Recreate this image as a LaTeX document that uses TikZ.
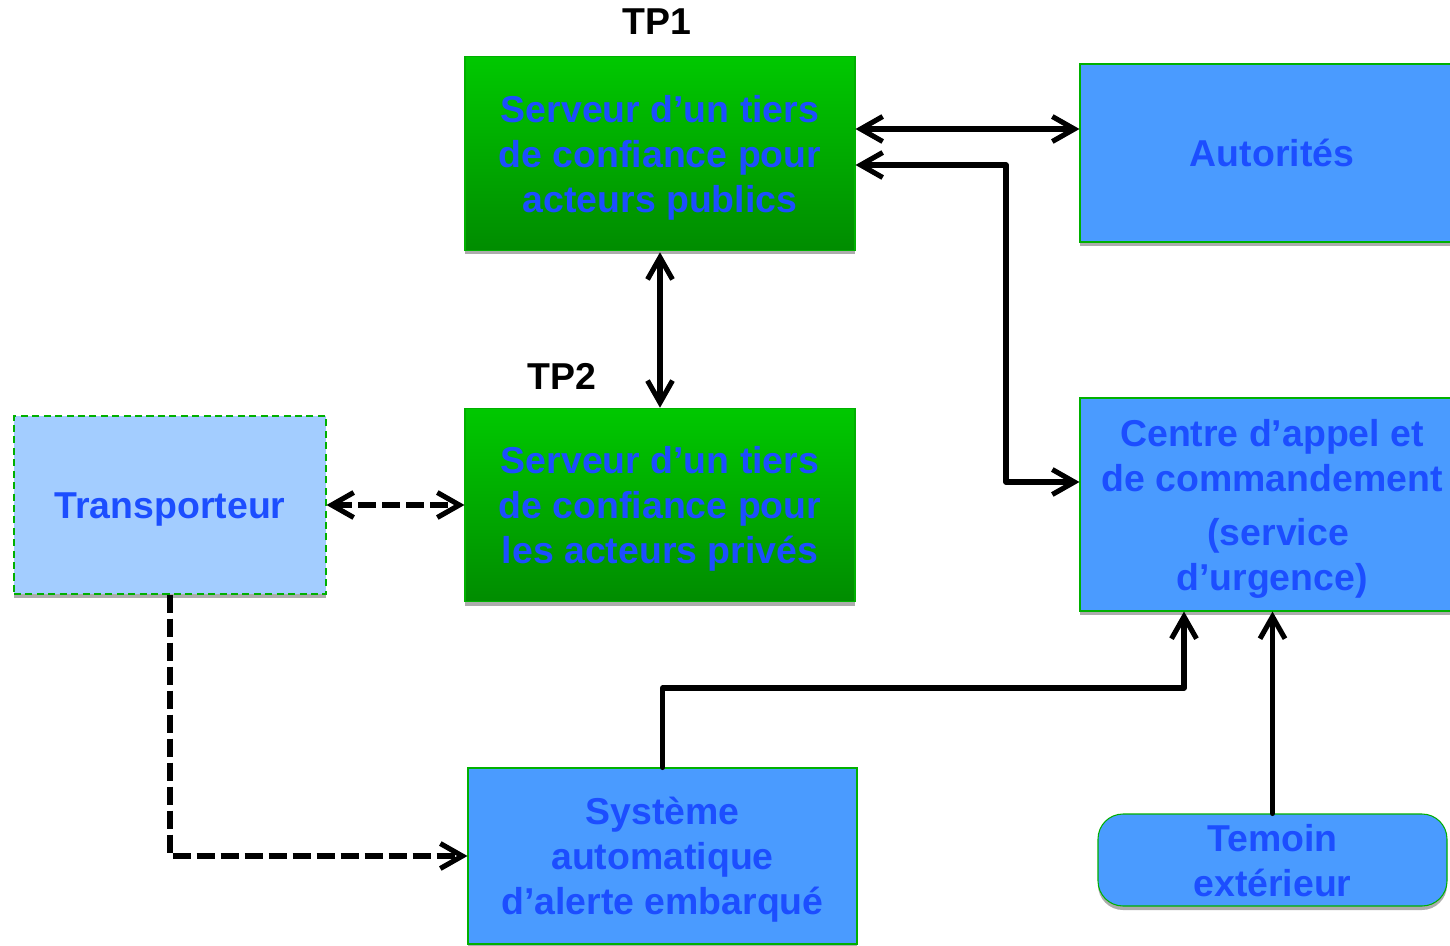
\documentclass[tikz,border=0pt]{standalone}
\usepackage{fontspec}
\setmainfont{Liberation Sans}
\usetikzlibrary{arrows.meta,shadows,calc}
\definecolor{txtblue}{RGB}{28,78,255}
\definecolor{boxblue}{RGB}{74,155,255}
\definecolor{lightblue}{RGB}{163,205,255}
\definecolor{gtop}{RGB}{0,200,0}
\definecolor{gbot}{RGB}{0,140,0}
\definecolor{gborder}{RGB}{0,176,0}
\newcommand{\boxtxt}[1]{\raisebox{-2.6pt}[\height][\depth]{\begin{tabular}{@{}c@{}}#1\end{tabular}}}
\tikzset{
  mybarb/.tip={Straight Barb[length=0.44cm, width=0.5cm, line width=2.9pt]},
  box/.style={rectangle, draw=gborder, line width=0.6pt, align=center,
    text=txtblue, font=\fontsize{21.3}{25.6}\selectfont\bfseries, inner sep=0pt,
    drop shadow={shadow xshift=0cm, shadow yshift=-0.08cm, fill=gray!65, opacity=1}},
  greenbox/.style={box, top color=gtop, bottom color=gbot,
    minimum width=7.8cm, minimum height=3.87cm},
  bluebox/.style={box, fill=boxblue},
  tplabel/.style={font=\fontsize{21.3}{24}\selectfont\bfseries, text=black},
  arr/.style={line width=2.9pt, line cap=round, line join=round, mybarb-mybarb},
  arrone/.style={line width=2.9pt, line cap=round, line join=round, -mybarb},
  dsh/.style={line width=3.2pt, line cap=butt, dash pattern=on 0.36cm off 0.12cm}
}
\begin{document}
\begin{tikzpicture}
\clip (0,0) rectangle (29,-18.9);
\fill[white] (0,0) rectangle (29,-18.9);
% nodes
\node[tplabel] (tp1l) at (13.14,-0.44) {TP1};
\node[tplabel] (tp2l) at (11.24,-7.52) {TP2};
\node[greenbox] (tp1) at (13.2,-3.07) {\boxtxt{Serveur d’un tiers\\de confiance pour\\acteurs publics}};
\node[greenbox] (tp2) at (13.2,-10.1) {\boxtxt{Serveur d’un tiers\\de confiance pour\\les acteurs privés}};
\node[bluebox, minimum width=7.68cm, minimum height=3.56cm] (aut) at (25.44,-3.06) {\boxtxt{Autorités}};
\node[box, fill=lightblue, draw=gborder, dash pattern=on 4pt off 2.5pt,
  minimum width=6.24cm, minimum height=3.56cm] (trans) at (3.4,-10.1) {\boxtxt{Transporteur}};
\node[bluebox, minimum width=7.68cm, minimum height=4.26cm] (centre) at (25.44,-10.09)
  {\boxtxt{Centre d’appel et\\de commandement\\[0.18cm]\hspace*{0.25cm}(service\\d’urgence)}};
\node[bluebox, minimum width=7.78cm, minimum height=3.52cm] (sys) at (13.25,-17.12)
  {\boxtxt{Système\\automatique\\d’alerte embarqué}};
\node[bluebox, rounded corners=0.5cm, minimum width=6.98cm, minimum height=1.84cm] (tem) at (25.45,-17.2)
  {\boxtxt{Temoin\\extérieur}};
% helper coordinates
\coordinate (xm) at (20.12,0);
\coordinate (ym) at (0,-13.76);
% connectors
\draw[arr] ([yshift=0.49cm]tp1.east) -- ([yshift=0.49cm]tp1.east -| aut.west);
\draw[arr] ([yshift=-0.23cm]tp1.east) -- ([yshift=-0.23cm]tp1.east -| xm) |- ([yshift=0.45cm]centre.west);
\draw[arr] ([yshift=-0.03cm]tp1.south) -- (tp2.north);
\draw[arr, dsh] (trans.east) -- (tp2.west);
\draw[arrone, dsh] (trans.south) |- (sys.west);
\draw[arrone] (sys.north) -- (sys.north |- ym) -| ([xshift=-1.76cm]centre.south);
\draw[arrone] (tem.north) -- (tem.north |- centre.south);
\end{tikzpicture}
\end{document}
